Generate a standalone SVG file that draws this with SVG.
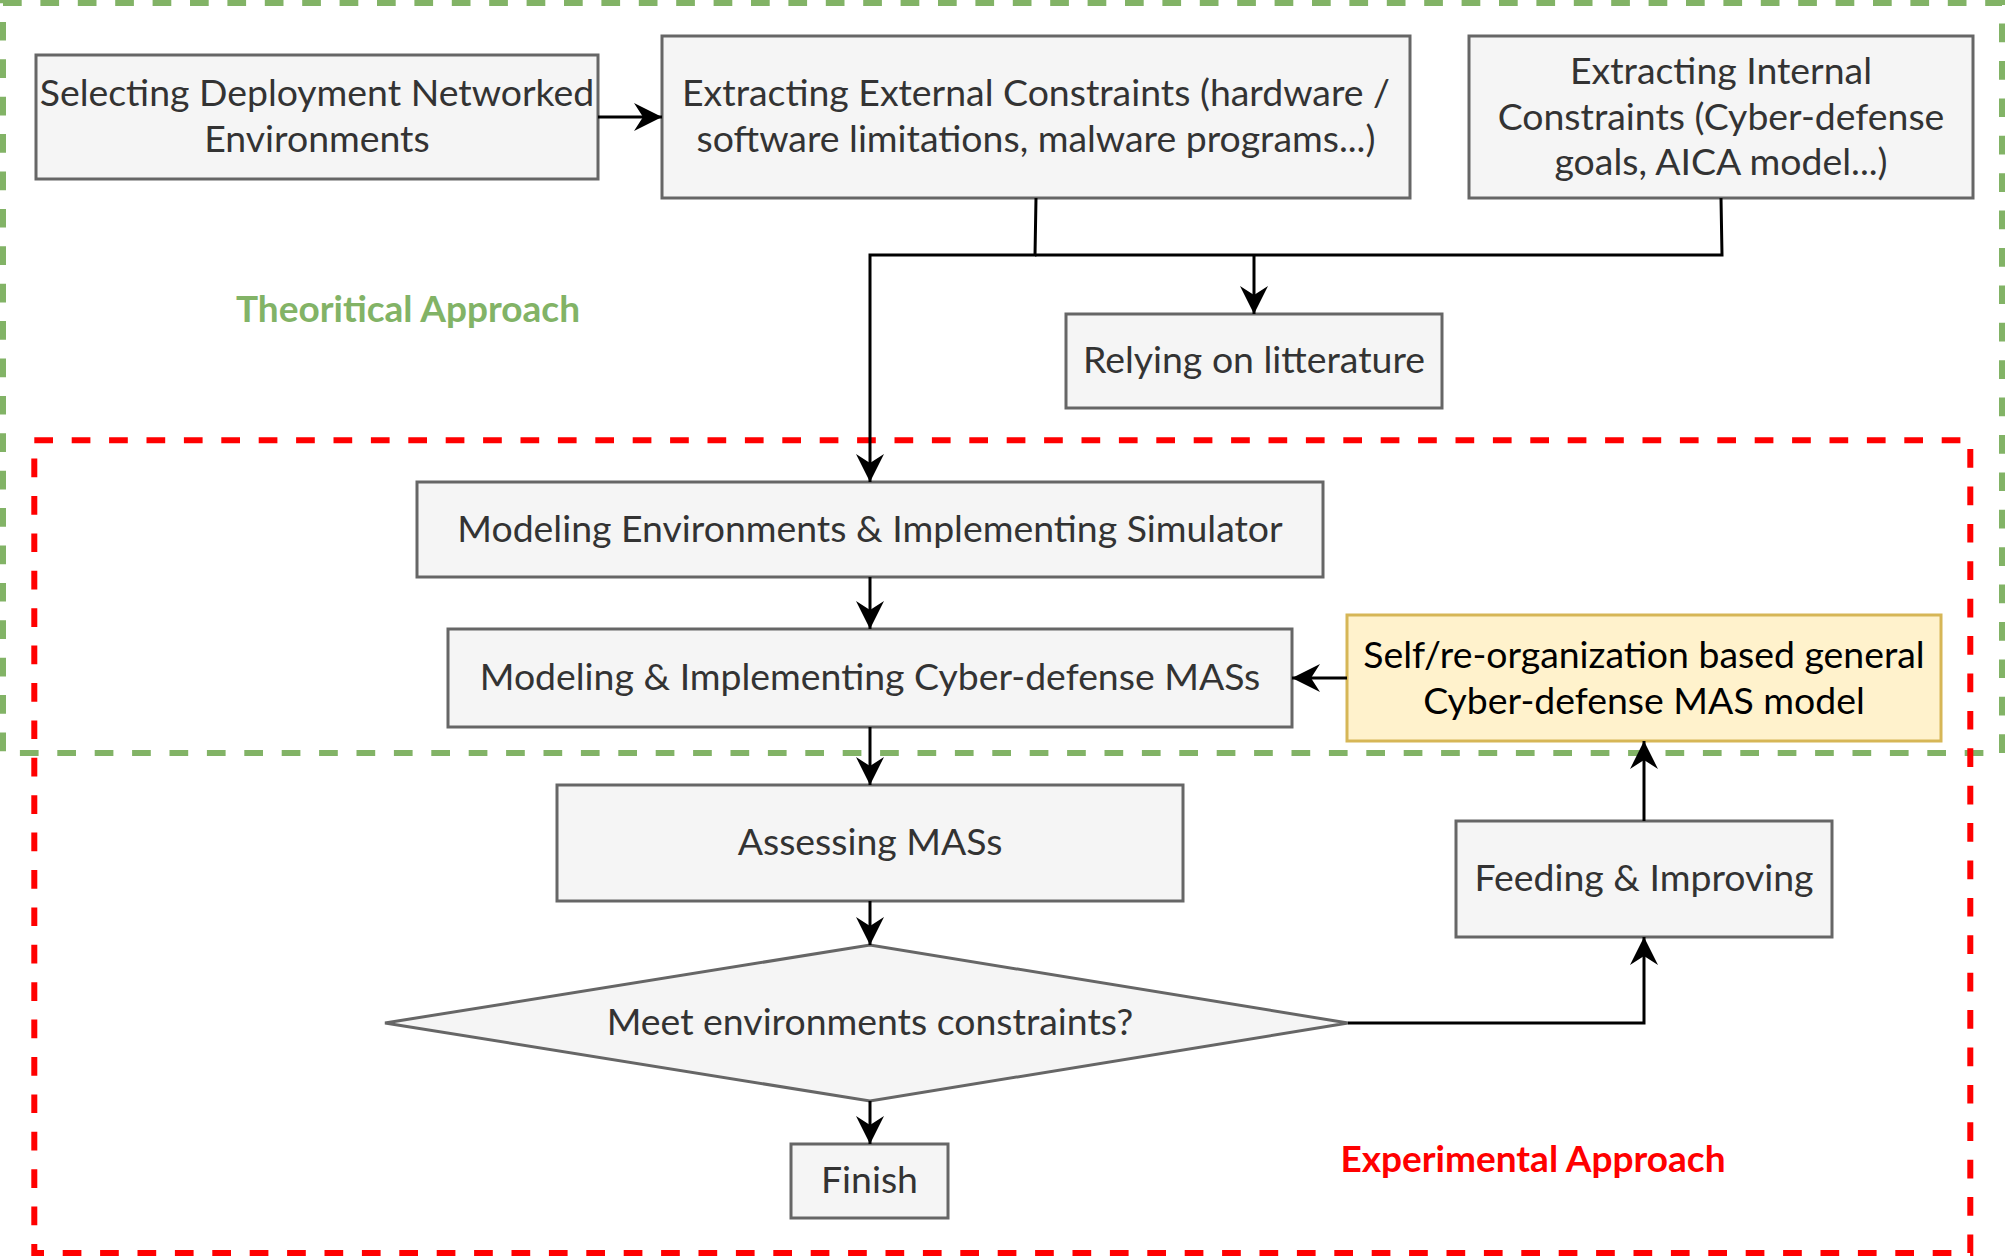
<svg xmlns="http://www.w3.org/2000/svg" width="2005" height="1256" viewBox="0 0 2005 1256">
<style>
.box{fill:#f5f5f5;stroke:#666666;stroke-width:3}
.yel{fill:#fff2cc;stroke:#d6b656;stroke-width:3}
.t{font-family:Lato,"Liberation Sans",sans-serif;font-size:37.4px;fill:#333333;text-anchor:middle}
.ty{fill:#000000}
.lbl{font-family:Lato,"Liberation Sans",sans-serif;font-size:37px;font-weight:bold;text-anchor:middle}
.edge{fill:none;stroke:#000000;stroke-width:3}
.area{fill:none;stroke-width:6;stroke-dasharray:18.7 18.7}
</style>
<defs>
<marker id="arr" markerUnits="userSpaceOnUse" markerWidth="30" markerHeight="30" viewBox="-29 -15 30 30" refX="0" refY="0" orient="auto">
<path d="M0,0 L-28,-14 L-19,0 L-28,14 Z" fill="#000000"/>
</marker>
</defs>
<rect width="2005" height="1256" fill="#ffffff"/>
<g id="theoretical-area">
<rect class="area" x="3" y="3" width="1999" height="750" stroke="#82b366"/>
<text class="lbl" x="408" y="322" fill="#82b366">Theoritical Approach</text>
</g>
<g id="experimental-area">
<rect class="area" x="34.3" y="440.3" width="1936" height="812.7" stroke="#ff0000"/>
<text class="lbl" x="1533" y="1172" fill="#ff0000">Experimental Approach</text>
</g>
<g id="n-selecting">
<rect class="box" x="36" y="55" width="562" height="124"/>
<text class="t" x="317" y="106">Selecting Deployment Networked</text>
<text class="t" x="317" y="152">Environments</text>
</g>
<g id="n-external">
<rect class="box" x="662" y="36" width="748" height="162"/>
<text class="t" x="1036" y="106">Extracting External Constraints (hardware /</text>
<text class="t" x="1036" y="152">software limitations, malware programs...)</text>
</g>
<g id="n-internal">
<rect class="box" x="1469" y="36" width="504" height="162"/>
<text class="t" x="1721" y="84">Extracting Internal</text>
<text class="t" x="1721" y="130">Constraints (Cyber-defense</text>
<text class="t" x="1721" y="175">goals, AICA model...)</text>
</g>
<g id="n-literature">
<rect class="box" x="1066" y="314" width="376" height="94"/>
<text class="t" x="1254" y="373">Relying on litterature</text>
</g>
<g id="n-modeling-env">
<rect class="box" x="417" y="482" width="906" height="95"/>
<text class="t" x="870" y="542">Modeling Environments &amp; Implementing Simulator</text>
</g>
<g id="n-modeling-mas">
<rect class="box" x="448" y="629" width="844" height="98"/>
<text class="t" x="870" y="690">Modeling &amp; Implementing Cyber-defense MASs</text>
</g>
<g id="n-general-model">
<rect class="yel" x="1347" y="615" width="594" height="126"/>
<text class="t ty" x="1644" y="668">Self/re-organization based general</text>
<text class="t ty" x="1644" y="714">Cyber-defense MAS model</text>
</g>
<g id="n-assessing">
<rect class="box" x="557" y="785" width="626" height="116"/>
<text class="t" x="870" y="855">Assessing MASs</text>
</g>
<g id="n-feeding">
<rect class="box" x="1456" y="821" width="376" height="116"/>
<text class="t" x="1644" y="891">Feeding &amp; Improving</text>
</g>
<g id="n-decision">
<polygon class="box" points="385,1023 870,945 1348,1023 870,1101"/>
<text class="t" x="870" y="1035">Meet environments constraints?</text>
</g>
<g id="n-finish">
<rect class="box" x="791" y="1144" width="157" height="74"/>
<text class="t" x="869.5" y="1193">Finish</text>
</g>
<g id="connectors">
<path class="edge" d="M598,117 L662,117" marker-end="url(#arr)"/>
<path class="edge" d="M1036,198 L1035,255 L870,255 L870,482" marker-end="url(#arr)"/>
<path class="edge" d="M1721,198 L1722,255 L1035,255"/>
<path class="edge" d="M1254,255 L1254,314" marker-end="url(#arr)"/>
<path class="edge" d="M870,577 L870,629" marker-end="url(#arr)"/>
<path class="edge" d="M1347,678 L1292,678" marker-end="url(#arr)"/>
<path class="edge" d="M870,727 L870,785" marker-end="url(#arr)"/>
<path class="edge" d="M870,901 L870,945" marker-end="url(#arr)"/>
<path class="edge" d="M870,1101 L870,1144" marker-end="url(#arr)"/>
<path class="edge" d="M1348,1023 L1644,1023 L1644,937" marker-end="url(#arr)"/>
<path class="edge" d="M1644,821 L1644,741" marker-end="url(#arr)"/>
</g>
</svg>
